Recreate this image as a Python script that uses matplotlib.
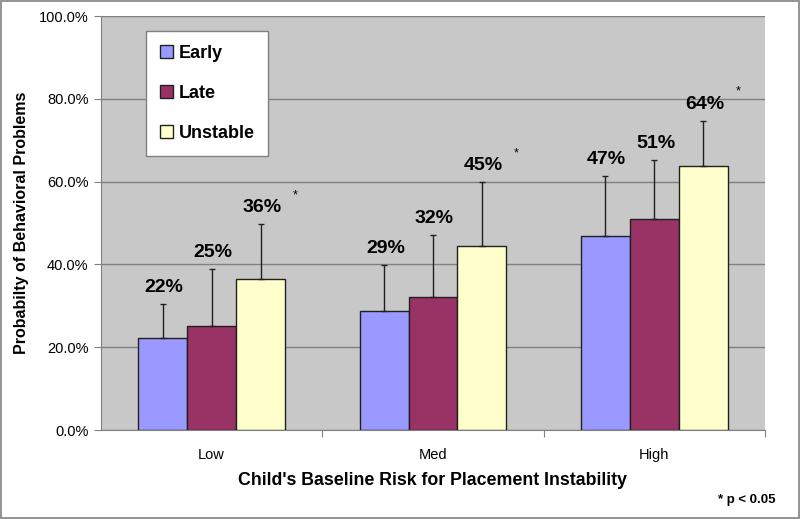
import numpy as np
import matplotlib
matplotlib.use('Agg')
import matplotlib.pyplot as plt
from matplotlib.patches import Rectangle

plt.rcParams['font.family'] = ['Liberation Sans', 'DejaVu Sans']

# data
groups = ['Low', 'Med', 'High']
series = ['Early', 'Late', 'Unstable']
early = [22.3, 28.7, 46.9]
late = [25.2, 32.1, 51.0]
unstable = [36.4, 44.5, 63.8]
early_err = [8.1, 11.1, 14.5]
late_err = [13.7, 14.9, 14.2]
unstable_err = [13.3, 15.3, 10.9]
labels = [['22%', '29%', '47%'], ['25%', '32%', '51%'], ['36%', '45%', '64%']]
significant = [True, True, True]   # unstable vs early, per group
yticks = [0, 20, 40, 60, 80, 100]

colors = ['#9999FF', '#993366', '#FFFFCC']
values = [early, late, unstable]
errors = [early_err, late_err, unstable_err]

fig = plt.figure(figsize=(8.0, 5.19), dpi=100)
ax = fig.add_axes([101/800, 89/519, 664/800, 414/519])
ax.set_facecolor('#C8C8C8')

x = np.arange(len(groups))
w = 0.221
for i in range(3):
    pos = x + (i - 1) * w
    ax.bar(pos, values[i], w, color=colors[i], edgecolor='#202020', linewidth=1.0,
           label=series[i], zorder=3)
    ax.errorbar(pos, values[i], yerr=[np.zeros(3), errors[i]], fmt='none',
                ecolor='#202020', elinewidth=1.0, capsize=2.5, capthick=1.0, zorder=4)
    for j in range(3):
        top = values[i][j] + errors[i][j]
        ax.annotate(labels[i][j], xy=(pos[j], top), xytext=(1, 12),
                    textcoords='offset points', ha='center', va='center',
                    fontsize=14, fontweight='bold', zorder=5)
        if i == 2 and significant[j]:
            ax.annotate('*', xy=(pos[j], top), xytext=(25, 21),
                        textcoords='offset points', ha='center', va='center',
                        fontsize=9, zorder=5)

ax.set_xlim(-0.5, 2.5)
ax.set_ylim(0, 100)
ax.set_yticks(yticks)
ax.set_yticklabels(['%.1f%%' % t for t in yticks], fontsize=10.5)
ax.yaxis.grid(True, color='#808080', linewidth=1.0, zorder=0)
ax.set_axisbelow(True)

# category ticks at the group boundaries, labels at the centres
ax.set_xticks([0.5, 1.5, 2.5])
ax.set_xticklabels([])
ax.set_xticks(x, minor=True)
ax.set_xticklabels(groups, minor=True, fontsize=10.5)
ax.tick_params(axis='x', which='minor', length=0, pad=13)
ax.tick_params(axis='x', which='major', length=5, color='#808080', direction='out')
ax.tick_params(axis='y', length=5, color='#808080', pad=4)

for s in ['top', 'right']:
    ax.spines[s].set_visible(False)
ax.spines['left'].set_color('#808080')
ax.spines['bottom'].set_color('#808080')

ax.set_xlabel("Child's Baseline Risk for Placement Instability", fontsize=12.8,
              fontweight='bold', labelpad=7)
ax.set_ylabel('Probabilty of Behavioral Problems', fontsize=11.5,
              fontweight='bold', labelpad=7)

leg = ax.legend(loc='upper left', bbox_to_anchor=(0.068, 0.963), borderaxespad=0,
                prop={'weight': 'bold', 'size': 13}, frameon=True, fancybox=False,
                handlelength=0.75, handleheight=0.75, handletextpad=0.3,
                labelspacing=1.28, borderpad=0.75)
leg.get_frame().set_edgecolor('#808080')
leg.get_frame().set_linewidth(1.0)
leg.get_frame().set_facecolor('white')
leg.get_frame().set_alpha(1)

fig.text(775/800, 1 - 500/519, '* p < 0.05', ha='right', va='center',
         fontsize=9.5, fontweight='bold')

fig.patches.append(Rectangle((0.001, 0.001), 0.998, 0.997, transform=fig.transFigure,
                             fill=False, edgecolor='#808080', linewidth=1.2))

fig.savefig('out.png', dpi=100)
